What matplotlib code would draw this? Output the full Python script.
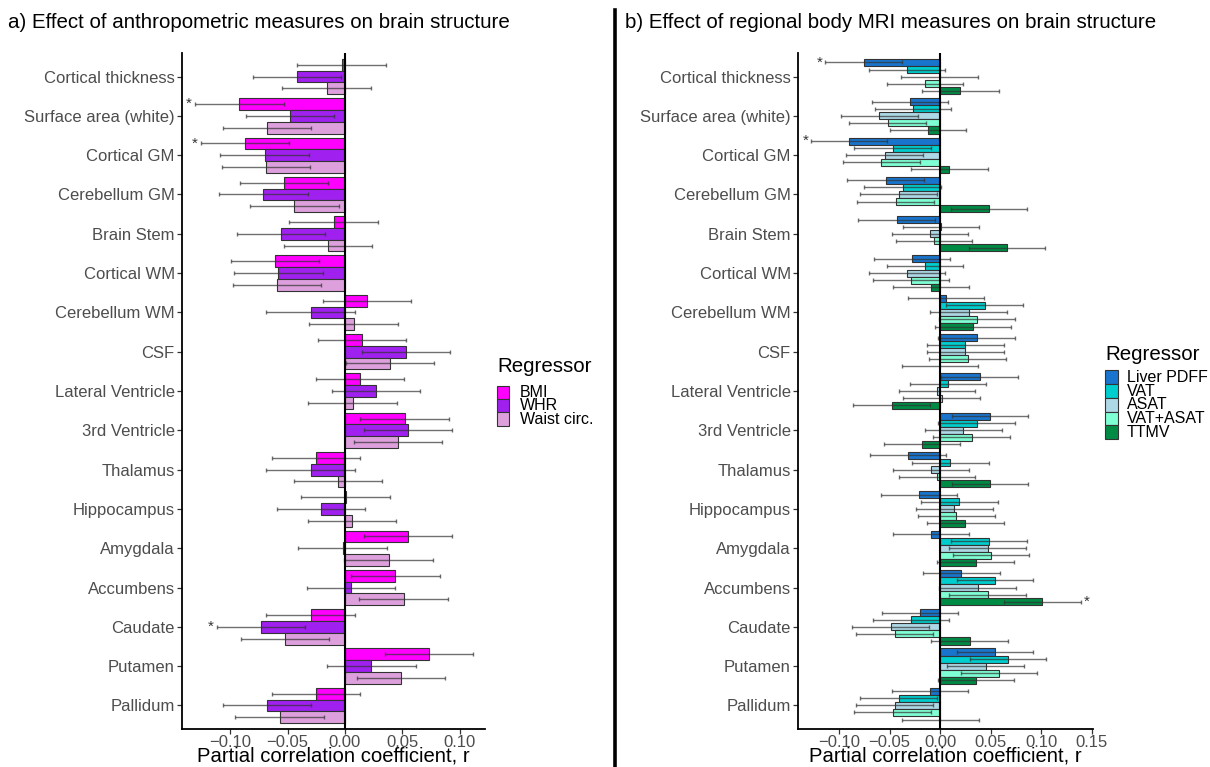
import numpy as np
import matplotlib
matplotlib.use("Agg")
import matplotlib.pyplot as plt
from matplotlib.patches import Rectangle
from matplotlib.lines import Line2D

plt.rcParams['font.family'] = ['Liberation Sans', 'DejaVu Sans']

# ---------------- data ----------------
structures = ["Cortical thickness", "Surface area (white)", "Cortical GM", "Cerebellum GM",
              "Brain Stem", "Cortical WM", "Cerebellum WM", "CSF", "Lateral Ventricle",
              "3rd Ventricle", "Thalamus", "Hippocampus", "Amygdala", "Accumbens",
              "Caudate", "Putamen", "Pallidum"]

# panel a
series_a = ["BMI", "WHR", "Waist circ."]
bmi   = [-0.003, -0.092, -0.087, -0.053, -0.010, -0.061, 0.019, 0.015, 0.013, 0.052,
         -0.025, 0.0005, 0.055, 0.044, -0.030, 0.073, -0.025]
whr   = [-0.042, -0.048, -0.070, -0.071, -0.056, -0.058, -0.030, 0.053, 0.027, 0.055,
         -0.030, -0.021, -0.002, 0.005, -0.073, 0.023, -0.068]
waist = [-0.016, -0.068, -0.069, -0.044, -0.015, -0.059, 0.0075, 0.039, 0.0067, 0.046,
         -0.006, 0.006, 0.038, 0.051, -0.052, 0.049, -0.057]
ci_a = 0.0385
sig_a = [("Surface area (white)", "BMI"), ("Cortical GM", "BMI"), ("Caudate", "WHR")]

# panel b
series_b = ["Liver PDFF", "VAT", "ASAT", "VAT+ASAT", "TTMV"]
liver   = [-0.0757, -0.030, -0.090, -0.054, -0.043, -0.028, 0.0056, 0.036, 0.039, 0.049,
           -0.032, -0.021, -0.009, 0.021, -0.020, 0.054, -0.010]
vat     = [-0.0329, -0.027, -0.047, -0.037, 0.001, -0.015, 0.044, 0.025, 0.0076, 0.036,
           0.010, 0.019, 0.048, 0.054, -0.029, 0.067, -0.041]
asat    = [-0.0005, -0.060, -0.055, -0.041, -0.010, -0.033, 0.028, 0.025, -0.003, 0.023,
           -0.009, 0.014, 0.047, 0.037, -0.049, 0.045, -0.045]
vatasat = [-0.015, -0.052, -0.058, -0.044, -0.006, -0.029, 0.0365, 0.027, 0.0013, 0.031,
           -0.003, 0.016, 0.050, 0.047, -0.045, 0.058, -0.047]
ttmv    = [0.020, -0.012, 0.009, 0.048, 0.066, -0.009, 0.0326, 0.0, -0.048, -0.018,
           0.049, 0.025, 0.035, 0.101, 0.029, 0.0355, 0.0003]
ci_b = 0.0378
sig_b = [("Cortical thickness", "Liver PDFF"), ("Cortical GM", "Liver PDFF"), ("Accumbens", "TTMV")]

colors_a = ["#FF00FF", "#A020F0", "#DDA0DD"]
colors_b = ["#1874CD", "#00CDCD", "#ADD8E6", "#7FFFD4", "#008B45"]

W, H = 1210, 767
fig = plt.figure(figsize=(W / 100, H / 100), dpi=100)

TICK_GRAY = "#4D4D4D"


def px_axes(x0, y0, x1, y1):
    return fig.add_axes([x0 / W, 1 - y1 / H, (x1 - x0) / W, (y1 - y0) / H])


def draw_panel(ax, series_names, data, colors, ci, sig, xlim, xticks):
    n = len(series_names)
    ncat = len(structures)
    ypos = np.arange(ncat)[::-1].astype(float)
    h = 0.9 / n
    offsets = [0.45 - h / 2 - i * h for i in range(n)]
    for i, (name, vals, col) in enumerate(zip(series_names, data, colors)):
        y = ypos + offsets[i]
        v = np.array(vals)
        ax.barh(y, v, height=h, color=col, edgecolor="#333333", linewidth=0.8, zorder=2)
        ax.errorbar(v, y, xerr=ci, fmt="none", ecolor="#333333", alpha=0.7,
                    elinewidth=1.0, capsize=1.6, capthick=1.0, zorder=3)
        for (cat, sname) in sig:
            if sname == name:
                k = structures.index(cat)
                val = v[k]
                if val < 0:
                    ax.text(val - ci - 0.0055, y[k], "*", ha="center", va="center",
                            fontsize=11, color="#333333", zorder=4)
                else:
                    ax.text(val + ci + 0.0055, y[k], "*", ha="center", va="center",
                            fontsize=11, color="#333333", zorder=4)
    ax.axvline(0, color="black", linewidth=1.5, zorder=4)
    ax.set_xlim(*xlim)
    ax.set_ylim(-0.6, ncat - 0.4)
    ax.set_yticks(ypos)
    ax.set_yticklabels(structures)
    ax.set_xticks(xticks)
    ax.set_xticklabels([f"{t:.2f}".replace("-", "\u2212") for t in xticks])
    ax.tick_params(axis="both", which="major", labelsize=12, labelcolor=TICK_GRAY,
                   color="#333333", length=3.8, width=0.9, pad=1.5)
    ax.tick_params(axis="x", pad=0.5)
    for s in ["top", "right"]:
        ax.spines[s].set_visible(False)
    for s in ["left", "bottom"]:
        ax.spines[s].set_linewidth(1.3)
        ax.spines[s].set_color("black")
    ax.set_xlabel("Partial correlation coefficient, r", fontsize=14.6, color="black",
                  labelpad=-2.5)
    ax.set_facecolor("white")


ax1 = px_axes(182, 53, 485, 729)
draw_panel(ax1, series_a, [bmi, whr, waist], colors_a, ci_a, sig_a,
           (-0.142, 0.122), [-0.10, -0.05, 0.0, 0.05, 0.10])

ax2 = px_axes(798, 53, 1093, 729)
draw_panel(ax2, series_b, [liver, vat, asat, vatasat, ttmv], colors_b, ci_b, sig_b,
           (-0.1405, 0.151), [-0.10, -0.05, 0.0, 0.05, 0.10, 0.15])

# titles
fig.text(8.5 / W, 1 - 22 / H, "a) Effect of anthropometric measures on brain structure",
         fontsize=14.8, ha="left", va="center", color="black")
fig.text(625 / W, 1 - 22 / H, "b) Effect of regional body MRI measures on brain structure",
         fontsize=14.8, ha="left", va="center", color="black")

# divider line
fig.add_artist(Line2D([615 / W, 615 / W], [0, 1 - 10 / H], color="black", linewidth=2.6,
                      transform=fig.transFigure))


# legends (drawn manually, ggplot style)
def draw_legend(x0, title_y, key_top, key_w, key_h, names, colors, label_x):
    fig.text(x0 / W, 1 - title_y / H, "Regressor", fontsize=14.8, ha="left", va="center")
    for i, (nm, col) in enumerate(zip(names, colors)):
        top = key_top + i * key_h
        fig.add_artist(Rectangle((x0 / W, 1 - (top + key_h) / H), key_w / W, key_h / H,
                                 facecolor=col, edgecolor="#333333", linewidth=0.8,
                                 transform=fig.transFigure))
        fig.text(label_x / W, 1 - (top + key_h / 2) / H, nm, fontsize=11.5,
                 ha="left", va="center", color="black")


draw_legend(497, 367, 386, 12, 13.2, series_a, colors_a, 520)
draw_legend(1105, 354, 370.5, 12.5, 13.7, series_b, colors_b, 1127)

fig.savefig("out.png", dpi=100, facecolor="white")
